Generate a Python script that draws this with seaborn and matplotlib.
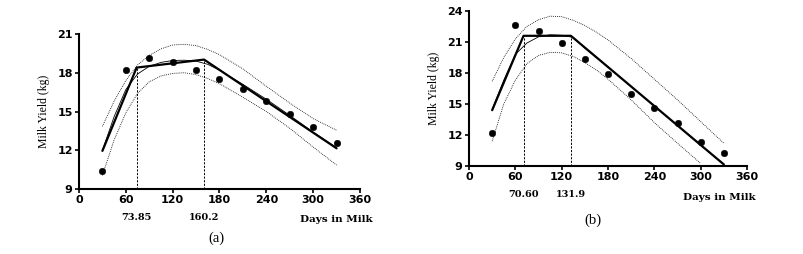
import numpy as np
import pandas as pd
import matplotlib
matplotlib.use('Agg')
import matplotlib.pyplot as plt
import seaborn as sns

# observed milk yield, panel (a) and (b)
days = [30, 60, 90, 120, 150, 180, 210, 240, 270, 300, 330]
obs_a = [10.4, 18.25, 19.15, 18.85, 18.25, 17.5, 16.75, 15.85, 14.8, 13.8, 12.6]
obs_b = [12.2, 22.65, 22.05, 20.9, 19.4, 17.95, 16.0, 14.6, 13.15, 11.35, 10.3]

# broken-stick fits
stick_x_a = [30, 73.85, 160.2, 330]
stick_y_a = [11.95, 18.4, 19.02, 12.15]
stick_x_b = [30, 70.60, 131.9, 330]
stick_y_b = [14.4, 21.6, 21.6, 9.15]

# smooth fit and confidence band
curve_x = [30, 45, 60, 75, 90, 105, 120, 135, 150, 165, 180, 210, 240, 270, 300, 330]
smooth_a = [12.0, 14.6, 16.7, 17.9, 18.5, 18.8, 18.95, 18.97, 18.9, 18.65, 18.2, 17.1, 15.95, 14.7, 13.4, 12.2]
upper_a = [13.85, 15.8, 17.4, 18.6, 19.35, 19.85, 20.15, 20.2, 20.1, 19.8, 19.4, 18.3, 16.95, 15.65, 14.45, 13.55]
lower_a = [10.05, 12.8, 14.9, 16.4, 17.3, 17.75, 17.95, 18.0, 17.85, 17.55, 17.15, 16.1, 15.0, 13.7, 12.25, 10.85]
smooth_b = [14.5, 17.3, 19.8, 20.9, 21.5, 21.7, 21.65, 21.45, 20.4, 19.5, 18.6, 16.7, 14.8, 12.9, 11.0, 9.2]
upper_b = [17.2, 19.5, 21.3, 22.5, 23.15, 23.5, 23.45, 23.1, 22.6, 21.95, 21.2, 19.4, 17.4, 15.4, 13.3, 11.2]
lower_b = [11.4, 15.0, 17.3, 18.9, 19.7, 20.0, 19.95, 19.6, 19.0, 18.3, 17.4, 15.4, 13.2, 11.2, 9.25, None]

breaks_a = [73.85, 160.2]
breaks_b = [70.60, 131.9]

sns.set_style("ticks")
plt.rcParams['font.family'] = ['DejaVu Sans']
plt.rcParams['text.color'] = 'black'
plt.rcParams['xtick.color'] = 'black'
plt.rcParams['ytick.color'] = 'black'
plt.rcParams['axes.labelcolor'] = 'black'
plt.rcParams['axes.edgecolor'] = 'black'

fig = plt.figure(figsize=(8.04, 2.54), dpi=100)
ax_a = fig.add_axes([79/804, 1-189/254, 281/804, 155/254])
ax_b = fig.add_axes([469/804, 1-166/254, 278/804, 155/254])

serif = 'DejaVu Serif'


def draw(ax, obs, sx, sy, smooth, upper, lower, breaks, ylim, yticks, days_x, tag):
    cdf = pd.DataFrame({'x': curve_x, 'smooth': smooth, 'upper': upper,
                        'lower': [np.nan if v is None else v for v in lower]})
    sns.lineplot(x='x', y='upper', data=cdf, ax=ax, color='black', lw=0.6,
                 linestyle=(0, (1, 1.3)))
    sns.lineplot(x='x', y='lower', data=cdf.dropna(), ax=ax, color='black', lw=0.6,
                 linestyle=(0, (1, 1.3)))
    sns.lineplot(x='x', y='smooth', data=cdf, ax=ax, color='black', lw=0.6)
    sns.lineplot(x=sx, y=sy, ax=ax, color='black', lw=1.6)
    sns.scatterplot(x=days, y=obs, ax=ax, color='black', s=22, edgecolor='black',
                    zorder=5)
    for bx in breaks:
        by = np.interp(bx, sx, sy)
        ax.plot([bx, bx], [ylim[0], by], color='black', lw=0.7,
                linestyle=(0, (2.2, 1.5)), clip_on=False)
        ax.text(bx, ylim[0] - (ylim[1] - ylim[0]) * 0.185,
                f'{bx:.2f}' if bx < 100 else f'{bx:.1f}',
                ha='center', va='center', family=serif, fontsize=7,
                fontweight='semibold', color='black')
    ax.set_xlim(0, 360)
    ax.set_ylim(*ylim)
    ax.set_xticks(range(0, 361, 60))
    ax.set_yticks(yticks)
    ax.set_xlabel('')
    ax.set_ylabel('Milk Yield (kg)', family='Liberation Serif', fontsize=8.5,
                  labelpad=5)
    for lab in ax.get_xticklabels() + ax.get_yticklabels():
        lab.set_fontweight('bold')
        lab.set_fontsize(8)
    ax.tick_params(length=3, width=1.2, pad=1.5)
    sns.despine(ax=ax)
    for s in ['left', 'bottom']:
        ax.spines[s].set_linewidth(1.5)
    ax.text(days_x, -0.20, 'Days in Milk', transform=ax.transAxes, ha='right',
            va='center', family=serif, fontsize=7.5, fontweight='bold')
    ax.text(tag[0], tag[1], tag[2], transform=ax.transAxes, ha='center',
            va='center', family='Liberation Serif', fontsize=10.5)


draw(ax_a, obs_a, stick_x_a, stick_y_a, smooth_a, upper_a, lower_a, breaks_a,
     (9, 21), [9, 12, 15, 18, 21], 1.046, (0.49, -0.316, '(a)'))
draw(ax_b, obs_b, stick_x_b, stick_y_b, smooth_b, upper_b, lower_b, breaks_b,
     (9, 24), [9, 12, 15, 18, 21, 24], 1.03, (0.446, -0.35, '(b)'))

fig.savefig('out.png', dpi=100)
